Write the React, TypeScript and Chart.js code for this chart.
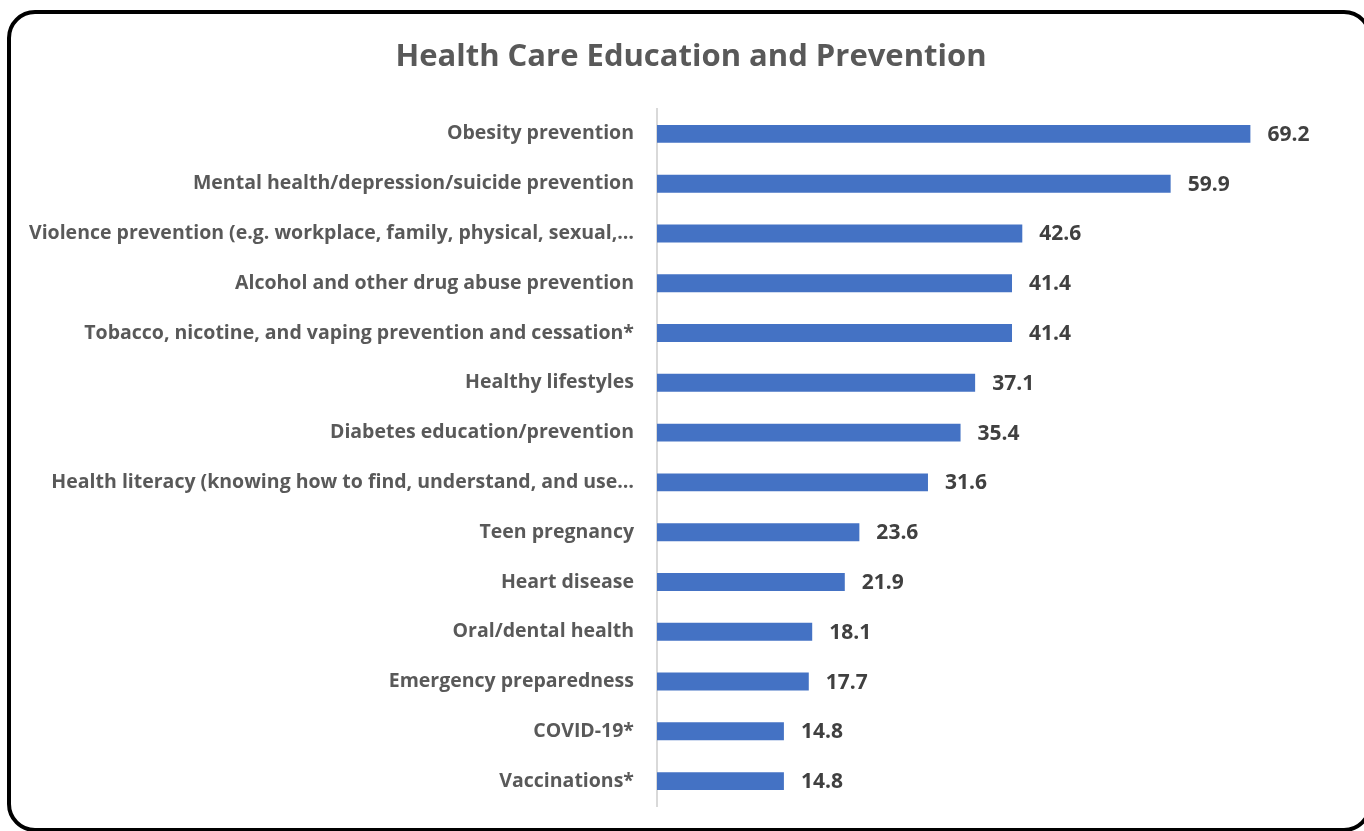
import React, { useEffect, useRef } from "react";
import { Chart, registerables } from "chart.js";

Chart.register(...registerables);

const categories: string[] = [
  "Obesity prevention",
  "Mental health/depression/suicide prevention",
  "Violence prevention (e.g. workplace, family, physical, sexual,…",
  "Alcohol and other drug abuse prevention",
  "Tobacco, nicotine, and vaping prevention and cessation*",
  "Healthy lifestyles",
  "Diabetes education/prevention",
  "Health literacy (knowing how to find, understand, and use…",
  "Teen pregnancy",
  "Heart disease",
  "Oral/dental health",
  "Emergency preparedness",
  "COVID-19*",
  "Vaccinations*",
];

const values: number[] = [69.2, 59.9, 42.6, 41.4, 41.4, 37.1, 35.4, 31.6, 23.6, 21.9, 18.1, 17.7, 14.8, 14.8];

const titleText = "Health Care Education and Prevention";
const axisMax = 80;

const FONT = "'Open Sans', sans-serif";

const valueLabelPlugin = {
  id: "valueLabels",
  afterDatasetsDraw(chart: any) {
    const ctx = chart.ctx;
    const meta = chart.getDatasetMeta(0);
    ctx.save();
    ctx.font = `bold 21px ${FONT}`;
    ctx.fillStyle = "#404040";
    ctx.textAlign = "left";
    ctx.textBaseline = "middle";
    meta.data.forEach((bar: any, i: number) => {
      ctx.fillText(values[i].toFixed(1), bar.x + 17, bar.y + 1);
    });
    ctx.restore();
  },
};

const titlePlugin = {
  id: "centeredTitle",
  afterDraw(chart: any) {
    const ctx = chart.ctx;
    ctx.save();
    ctx.font = `bold 31px ${FONT}`;
    ctx.fillStyle = "#595959";
    ctx.textAlign = "center";
    ctx.textBaseline = "middle";
    ctx.fillText(titleText, chart.width / 2 + 9, 57);
    ctx.restore();
  },
};

export default function App() {
  const canvasRef = useRef<HTMLCanvasElement | null>(null);

  useEffect(() => {
    if (!canvasRef.current) return;
    const chart = new Chart(canvasRef.current, {
      type: "bar",
      data: {
        labels: categories,
        datasets: [
          {
            data: values,
            backgroundColor: "#4472C4",
            borderWidth: 0,
            barPercentage: 0.36,
            categoryPercentage: 1,
          },
        ],
      },
      options: {
        indexAxis: "y",
        animation: false,
        responsive: false,
        maintainAspectRatio: false,
        layout: { padding: { left: 0, right: 21, top: 109, bottom: 25 } },
        plugins: {
          legend: { display: false },
          tooltip: { enabled: false },
          title: { display: false },
        },
        scales: {
          x: {
            display: false,
            min: 0,
            max: axisMax,
          },
          y: {
            afterFit: (s: any) => {
              s.width = 657;
              s.paddingTop = 0;
              s.paddingBottom = 0;
            },
            grid: { display: false, drawTicks: false },
            border: { display: true, color: "#d9d9d9", width: 2 },
            ticks: {
              color: "#595959",
              font: { family: FONT, size: 19.5, weight: "bold" },
              padding: 23,
              autoSkip: false,
            },
          },
        },
      },
      plugins: [valueLabelPlugin, titlePlugin],
    });
    return () => chart.destroy();
  }, []);

  return (
    <div style={{ position: "fixed", left: 0, top: 0, width: 1364, height: 831, background: "#fff", overflow: "hidden" }}>
      <div
        style={{
          position: "absolute",
          left: 7,
          top: 10,
          width: 1365,
          height: 822,
          boxSizing: "border-box",
          border: "4px solid #000",
          borderRadius: 28,
        }}
      />
      <canvas ref={canvasRef} width={1364} height={831} style={{ position: "absolute", left: 0, top: 0 }} />
    </div>
  );
}
